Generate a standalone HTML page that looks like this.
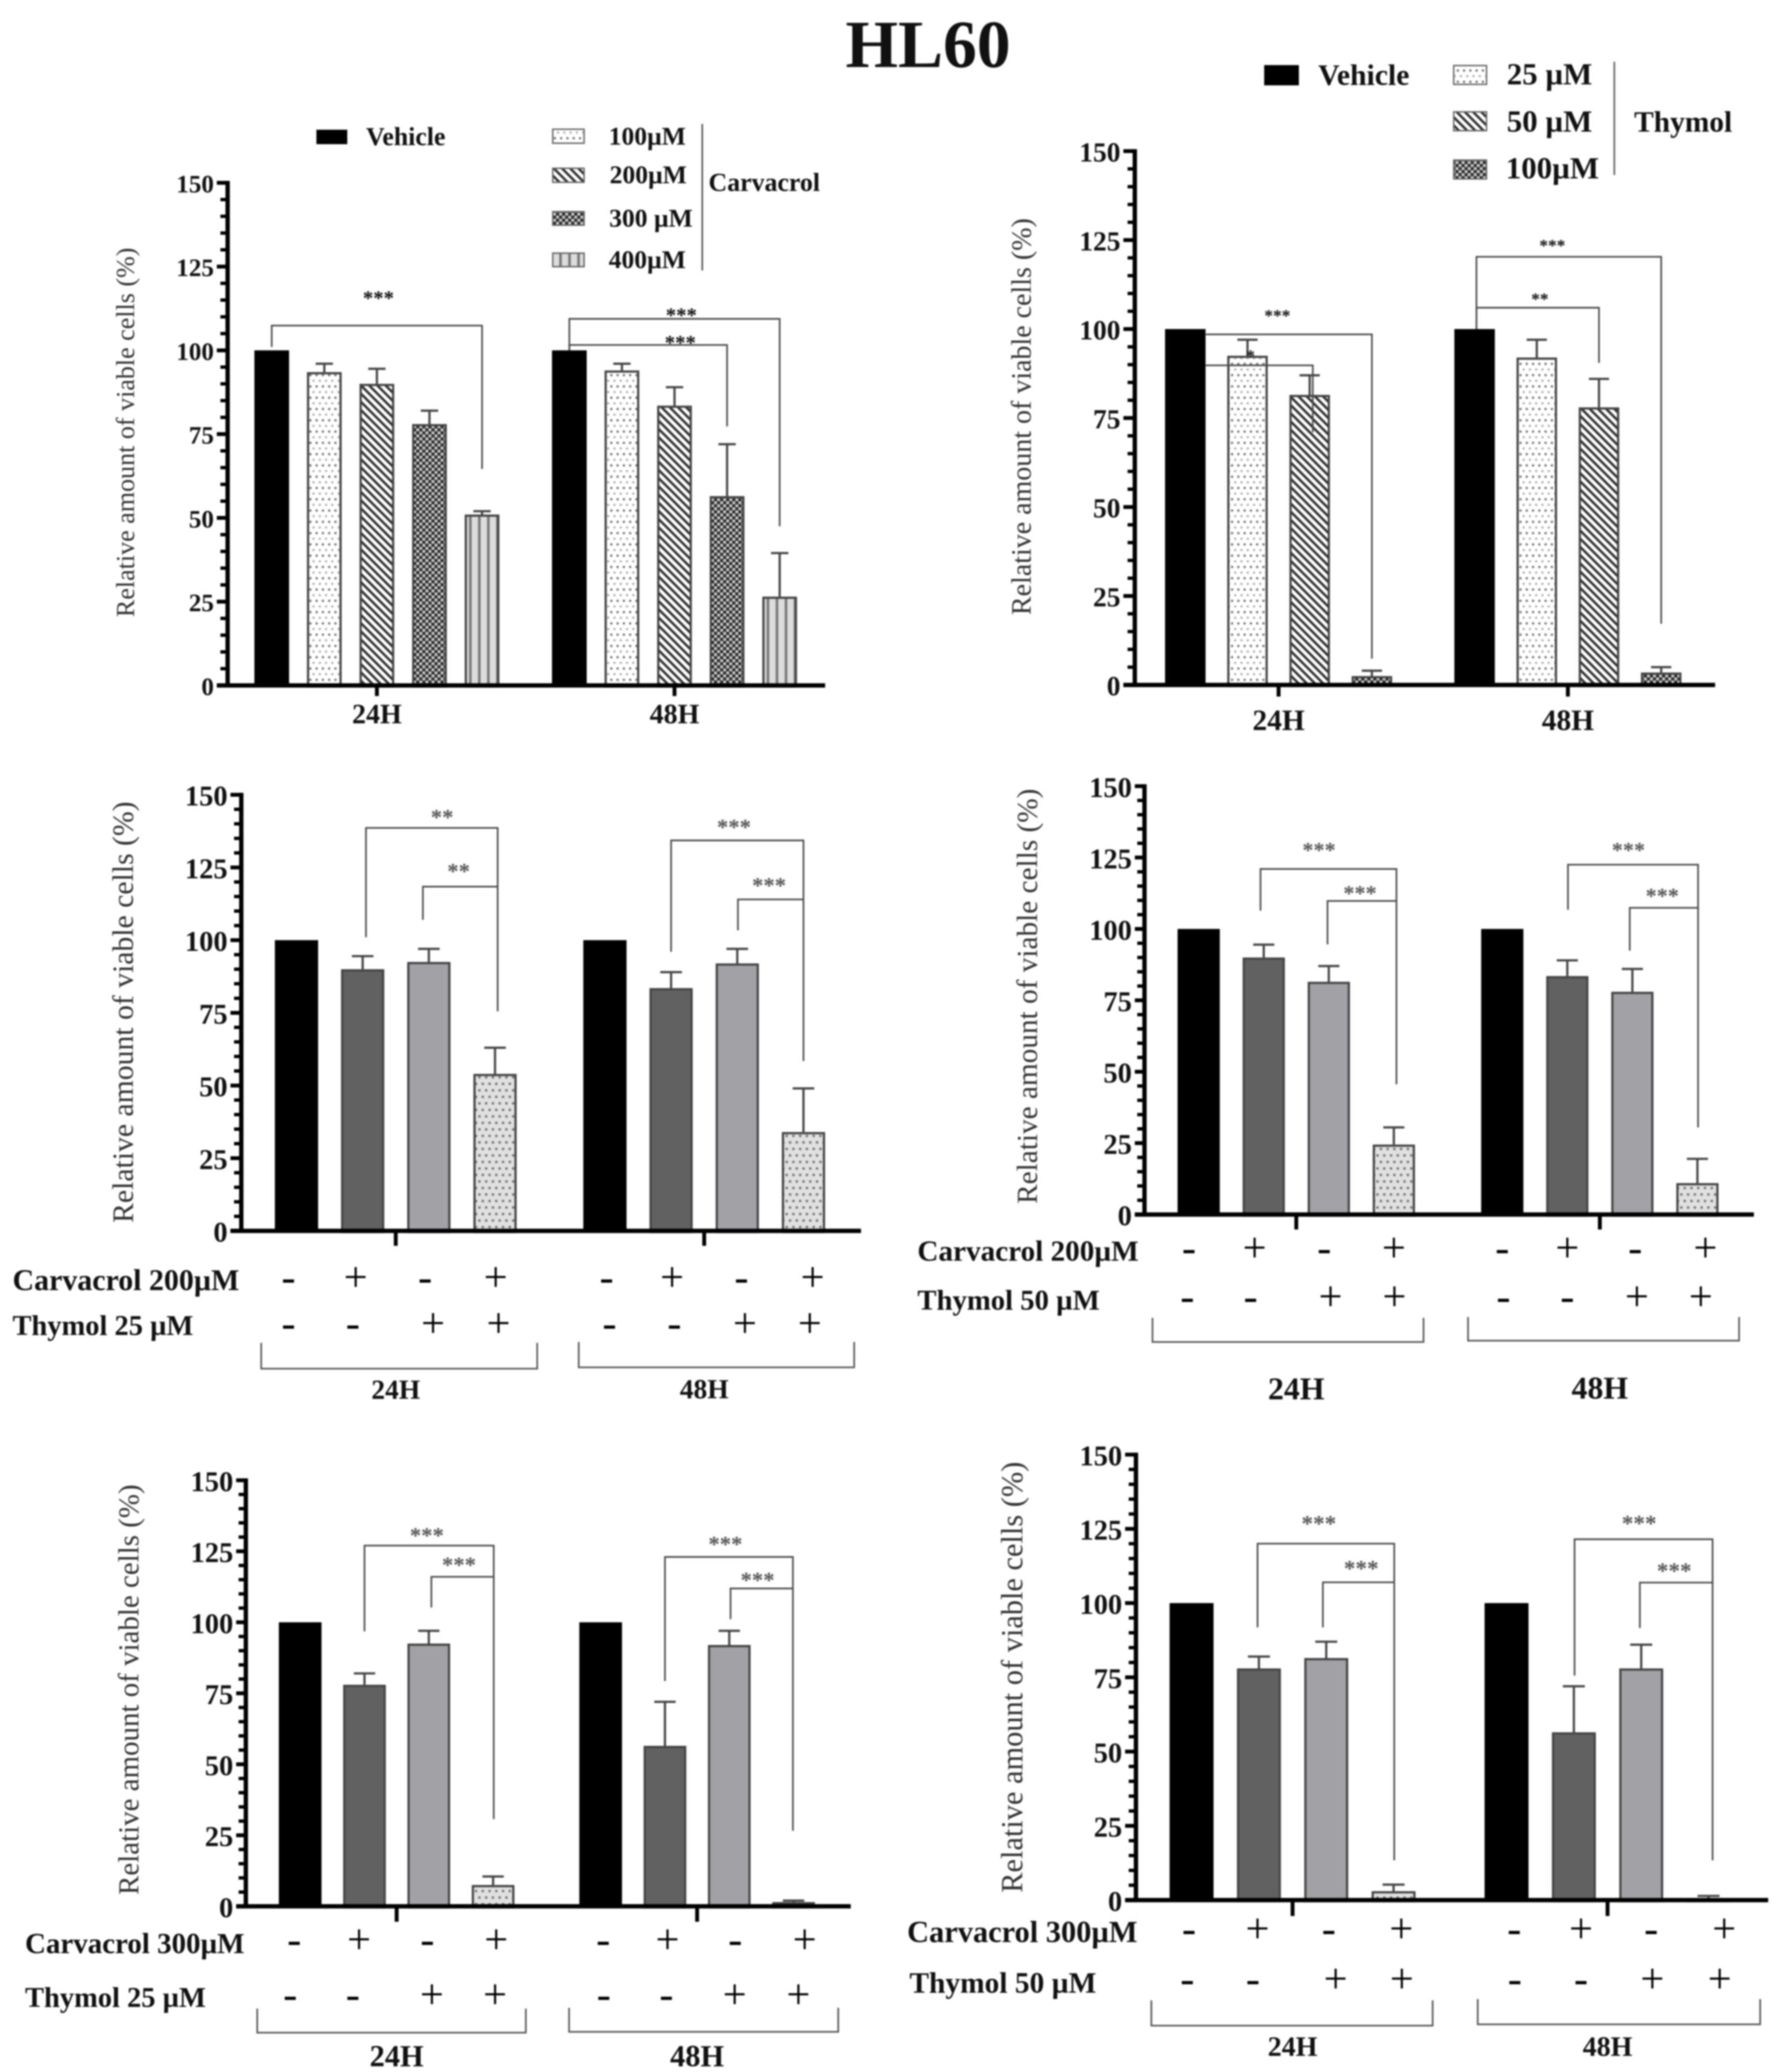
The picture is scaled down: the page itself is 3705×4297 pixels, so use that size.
<!DOCTYPE html>
<html lang="en">
<head>
<meta charset="utf-8">
<title>HL60 viable cell charts</title>
<style>
html,body{margin:0;padding:0;background:#fff;}
svg{display:block;filter:blur(1.5px);}
text{font-family:"Liberation Serif",serif;}
.b{font-weight:bold;fill:#111;}
</style>
</head>
<body>
<svg id="figure" xmlns="http://www.w3.org/2000/svg" width="3705" height="4297" viewBox="0 0 3705 4297">
<defs>
<pattern id="p-dots" patternUnits="userSpaceOnUse" width="26" height="23.4">
<rect width="26" height="23.4" fill="#fff"/>
<circle cx="6.5" cy="5.8" r="2.6" fill="#777"/><circle cx="19.5" cy="5.8" r="2.6" fill="#777"/>
<circle cx="0" cy="17.5" r="2.4" fill="#aaa"/><circle cx="13" cy="17.5" r="2.4" fill="#aaa"/><circle cx="26" cy="17.5" r="2.4" fill="#aaa"/>
</pattern>
<pattern id="p-hatch" patternUnits="userSpaceOnUse" width="17" height="17">
<rect width="17" height="17" fill="#fff"/>
<path d="M-5 -5L22 22M-5 12L5 22M12 -5L22 5" stroke="#333" stroke-width="5.2" fill="none"/>
</pattern>
<pattern id="p-check" patternUnits="userSpaceOnUse" width="12.6" height="12.6">
<rect width="12.6" height="12.6" fill="#6a6a6a"/>
<circle cx="3.1" cy="3.1" r="2.4" fill="#eee"/><circle cx="9.4" cy="9.4" r="2.4" fill="#eee"/>
<circle cx="9.4" cy="3.1" r="2.3" fill="#111"/><circle cx="3.1" cy="9.4" r="2.3" fill="#111"/>
</pattern>
<pattern id="p-stripes" patternUnits="userSpaceOnUse" width="18.7" height="10">
<rect width="18.7" height="10" fill="#dcdcdc"/>
<rect x="0" width="5.4" height="10" fill="#777"/>
</pattern>
<pattern id="p-dotgray" patternUnits="userSpaceOnUse" width="28" height="27">
<rect width="28" height="27" fill="#e0e0e0"/>
<circle cx="7" cy="6.7" r="2.8" fill="#777"/><circle cx="21" cy="6.7" r="2.8" fill="#777"/>
<circle cx="0" cy="20.2" r="2.8" fill="#777"/><circle cx="14" cy="20.2" r="2.8" fill="#777"/><circle cx="28" cy="20.2" r="2.8" fill="#777"/>
</pattern>
</defs>
<rect width="3705" height="4297" fill="#fff"/>
<text x="1753" y="139" class="b" font-size="140" fill="#000">HL60</text>

<g>
<rect x="656" y="269" width="64" height="30" fill="#000"/>
<text x="759" y="301" class="b" font-size="53.5">Vehicle</text>
<rect x="1146" y="268" width="65" height="29" fill="url(#p-dots)" stroke="#666" stroke-width="3"/>
<text x="1262" y="300" class="b" font-size="53">100µM</text>
<rect x="1146" y="349" width="65" height="29" fill="url(#p-hatch)" stroke="#666" stroke-width="3"/>
<text x="1264" y="380" class="b" font-size="53">200µM</text>
<rect x="1146" y="439" width="65" height="28" fill="url(#p-check)" stroke="#666" stroke-width="3"/>
<text x="1263" y="470" class="b" font-size="53">300 µM</text>
<rect x="1146" y="525" width="65" height="28" fill="url(#p-stripes)" stroke="#666" stroke-width="3"/>
<text x="1262" y="556" class="b" font-size="53">400µM</text>
<line x1="1456" y1="257" x2="1456" y2="561" stroke="#444" stroke-width="3"/>
<text x="1469" y="396" class="b" font-size="53.6">Carvacrol</text>
</g>

<g>
<rect x="2621" y="135" width="72" height="42" fill="#000"/>
<text x="2733" y="176" class="b" font-size="61.5">Vehicle</text>
<rect x="3014" y="136" width="68" height="39" fill="url(#p-dots)" stroke="#666" stroke-width="3"/>
<text x="3124" y="175" class="b" font-size="64">25 µM</text>
<rect x="3014" y="232" width="68" height="39" fill="url(#p-hatch)" stroke="#666" stroke-width="3"/>
<text x="3124" y="273" class="b" font-size="64">50 µM</text>
<rect x="3014" y="332" width="68" height="39" fill="url(#p-check)" stroke="#666" stroke-width="3"/>
<text x="3122" y="370" class="b" font-size="64">100µM</text>
<line x1="3347" y1="128" x2="3347" y2="363" stroke="#666" stroke-width="3.5"/>
<text x="3388" y="273" class="b" font-size="61">Thymol</text>
</g>

<g id="panel-a"></g>
<g id="panel-b"></g>
<g id="panel-c"></g>
<g id="panel-d"></g>
<g id="panel-e"></g>
<g id="panel-f"></g>
</svg>

<script>
// ---- shared data ----
const categories = ['24H', '48H'];
const yTickValues = [0, 25, 50, 75, 100, 125, 150];
const yMinorTickValues = [5,10,15,20,30,35,40,45,55,60,65,70,80,85,90,95,105,110,115,120,130,135,140,145];
const yAxisTitle = 'Relative amount of viable cells (%)';
const carvacrolSigns = ['-', '+', '-', '+'];
const thymolSigns = ['-', '-', '+', '+'];

// ---- series values, one array per group (24H, 48H) ----
const panelAMeans = [[100, 93.5, 90, 78, 51], [100, 94, 83.5, 56.5, 26.5]];
const panelAErrors = [[0, 2.5, 4.5, 4, 1], [0, 2, 5.5, 15.5, 13]];
const panelBMeans = [[100, 92.5, 81.5, 2.5], [100, 92, 78, 3.5]];
const panelBErrors = [[0, 4.5, 5.5, 1.5], [0, 5, 8, 1.5]];
const panelCMeans = [[100, 90, 92.5, 54], [100, 83.5, 92, 34]];
const panelCErrors = [[0, 4.5, 4.5, 9], [0, 5.5, 5, 15]];
const panelDMeans = [[100, 90, 81.5, 24.5], [100, 83.5, 78, 11]];
const panelDErrors = [[0, 4.5, 5.5, 6], [0, 5.5, 8, 8.5]];
const panelEMeans = [[100, 78, 92.5, 7.5], [100, 56.5, 92, 1.5]];
const panelEErrors = [[0, 4, 4.5, 3], [0, 15.5, 5, 0.5]];
const panelFMeans = [[100, 78, 81.5, 3], [100, 56.5, 78, 0.7]];
const panelFErrors = [[0, 4, 5.5, 2.2], [0, 15.5, 8, 0.7]];

// ---- significance brackets: group, left bar, right bar, level, left end, right end, label, label bar pos, label level ----
const panelABrackets = [
  [0, 0, 4, 107.4, 101, 64.6, '***', 2.03, 116.5],
  [1, 0, 4, 109.4, 100, 47.5, '***', 2.13, 111.4],
  [1, 0, 3, 101.6, 100, 77.3, '***', 2.11, 103.2]
];
const panelBBrackets = [
  [0, 0.33, 2.05, 89.8, 89.8, 71, '*', 1.05, 93.2],
  [0, 0.33, 3, 98.5, 98.5, 7.4, '***', 1.48, 104.5],
  [1, 0.03, 3, 120.3, 100, 17.2, '***', 1.25, 124.2],
  [1, 0.03, 2, 106, 100, 90.5, '**', 1.05, 109.2]
];
const panelCBrackets = [
  [0, 1.05, 3.04, 138.6, 101, 75.5, '**', 2.2, 143.5],
  [0, 1.91, 3.04, 118.4, 107, 118.4, '**', 2.45, 124.9],
  [1, 1, 3, 134.3, 96, 58.4, '***', 1.95, 140.1],
  [1, 2.01, 3, 114, 103.4, 114, '***', 2.48, 120]
];
const panelDBrackets = [
  [0, 0.95, 3.04, 121, 106.4, 45.6, '***', 1.85, 128.8],
  [0, 1.98, 3.04, 109.8, 94.6, 109.8, '***', 2.48, 113.7],
  [1, 1.01, 3.01, 122.5, 106.7, 30.5, '***', 1.94, 128.8],
  [1, 1.96, 3.01, 107.4, 92.4, 107.4, '***', 2.46, 112.8]
];
const panelEBrackets = [
  [0, 1, 3.01, 127, 96.8, 30.7, '***', 1.97, 131.8],
  [0, 2.04, 3.01, 116, 105.2, 116, '***', 2.47, 121.5],
  [1, 1, 2.99, 123, 79.3, 26.6, '***', 1.94, 128.8],
  [1, 2.02, 2.99, 111.9, 101.1, 111.9, '***', 2.44, 116.1]
];
const panelFBrackets = [
  [0, 0.98, 3.01, 120, 91.8, 13.4, '***', 1.89, 127.9],
  [0, 1.95, 3.01, 107, 91.8, 107, '***', 2.52, 112.8],
  [1, 1.01, 3.06, 121.5, 75.6, 13.4, '***', 1.97, 128],
  [1, 1.98, 3.06, 106.9, 91.6, 106.9, '***', 2.49, 112]
];

// ---- layout (separate from data) ----
const SL = 1850 / 1568, SR = 1855 / 1568;
const fillsDose5 = ['#000', 'url(#p-dots)', 'url(#p-hatch)', 'url(#p-check)', 'url(#p-stripes)'];
const fillsDose4 = ['#000', 'url(#p-dots)', 'url(#p-hatch)', 'url(#p-check)'];
const fillsCombo = ['#000', '#616161', '#a2a1a5', 'url(#p-dotgray)'];

const layoutA = { ox: 0, oy: 0, sx: SL, sy: 1550 / 1568, axis: 400, y0: 1438, y150: 383.5, xs: 381, xe: 1450, lefts: [447, 970], w: 61, step: 92.4, tickF: 52, titleF: 54, titleX: 222, titleY: 907, catF: 58, catY: [1498, 1498], xTick: 22, starF: 43, starC: '#111' };
const layoutB = { ox: 1850, oy: 0, sx: SR, sy: 1550 / 1568, axis: 425, y0: 1437, y150: 317, xs: 405, xe: 1442, lefts: [478, 985], w: 71, step: 109, tickF: 57, titleF: 58, titleX: 228, titleY: 874, catF: 61, catY: [1511, 1511], xTick: 24, starF: 36, starC: '#111' };
const layoutC = { ox: 0, oy: 1550, sx: SL, sy: 1400 / 1568, axis: 424, y0: 1123, y150: 110, xs: 405, xe: 1513, lefts: [483, 1025], w: 76, step: 116.3, tickF: 59, titleF: 61.6, titleX: 218, titleY: 615, catF: 57, catY: [1492, 1491], xTick: 31, starF: 47, starC: '#555',
  rowF: [62, 59], rowX: [22, 22], rowY: [1240, 1345], rowText: ['Carvacrol 200µM', 'Thymol 25 µM'], signY: [1238, 1345],
  signX: [[507, 625, 747, 871, 1066, 1181, 1303, 1428], [507, 620, 761, 876, 1071, 1185, 1309, 1423]],
  boxes: [[459, 944, 1383, 1443], [1017, 1501, 1381, 1440]] };
const layoutD = { ox: 1850, oy: 1550, sx: SR, sy: 1400 / 1568, axis: 442, y0: 1085, y150: 90, xs: 425, xe: 1510, lefts: [500, 1032], w: 74, step: 114, tickF: 59, titleF: 60.7, titleX: 238, titleY: 578, catF: 66, catY: [1490, 1488], xTick: 31, starF: 46, starC: '#555',
  rowF: [60.5, 59.5], rowX: [44, 44], rowY: [1172, 1286], rowText: ['Carvacrol 200µM', 'Thymol 50 µM'], signY: [1170, 1283],
  signX: [[520, 635, 757, 879, 1069, 1183, 1302, 1425], [517, 628, 768, 880, 1071, 1183, 1305, 1417]],
  boxes: [[456, 931, 1325, 1381], [1009, 1484, 1323, 1378]] };
const layoutE = { ox: 0, oy: 2950, sx: SL, sy: 1347 / 1568, axis: 432, y0: 1168, y150: 139.5, xs: 415, xe: 1495, lefts: [490, 1018], w: 75, step: 113, tickF: 59, titleF: 60, titleX: 228, titleY: 645, catF: 63, catY: [1530, 1530], xTick: 32, starF: 47, starC: '#555',
  rowF: [60, 59], rowX: [44, 44], rowY: [1260, 1390], rowText: ['Carvacrol 300µM', 'Thymol 25 µM'], signY: [1256, 1389],
  signX: [[517, 631, 751, 872, 1060, 1173, 1292, 1414], [510, 620, 759, 870, 1061, 1171, 1291, 1403]],
  boxes: [[452, 924, 1415, 1473], [1000, 1473, 1413, 1471]] };
const layoutF = { ox: 1850, oy: 2950, sx: SR, sy: 1347 / 1568, axis: 427, y0: 1153, y150: 77.5, xs: 408, xe: 1535, lefts: [486, 1038], w: 77, step: 118, tickF: 59, titleF: 63, titleX: 212, titleY: 615, catF: 58, catY: [1507, 1507], xTick: 33, starF: 48, starC: '#555',
  rowF: [63, 61], rowX: [26, 30], rowY: [1232, 1355], rowText: ['Carvacrol 300µM', 'Thymol 50 µM'], signY: [1230, 1351],
  signX: [[520, 640, 765, 892, 1090, 1207, 1330, 1458], [517, 632, 777, 893, 1091, 1207, 1332, 1450]],
  boxes: [[454, 947, 1395, 1456], [1026, 1521, 1392, 1453]] };

const NS = 'http://www.w3.org/2000/svg';
function mk(tag, attrs, parent, txt) {
  const n = document.createElementNS(NS, tag);
  for (const k in attrs) n.setAttribute(k, attrs[k]);
  if (txt !== undefined) n.textContent = txt;
  parent.appendChild(n);
  return n;
}

function drawPanel(id, L, means, errors, brackets, fills) {
  const root = document.getElementById(id);
  const X = z => L.ox + z * L.sx;
  const Y = z => L.oy + z * L.sy;
  const yBase = Y(L.y0);
  const yScale = v => yBase - v * (yBase - Y(L.y150)) / 150;
  const barW = L.w * L.sx;
  const stepPx = L.step * L.sx;
  const barLeft = (g, i) => X(L.lefts[g]) + i * stepPx;
  const barPos = (g, p) => barLeft(g, 0) + barW / 2 + p * stepPx;
  const stroke = 4.6;

  // bars and error bars
  means.forEach((series, g) => {
    series.forEach((v, i) => {
      const left = barLeft(g, i);
      const cx = left + barW / 2;
      const e = errors[g][i];
      if (e > 0) {
        const err = mk('path', { d: `M${cx} ${yScale(v)}V${yScale(v + e)}M${cx - barW / 4} ${yScale(v + e)}H${cx + barW / 4}`, stroke: '#444', 'stroke-width': 4.6, fill: 'none' }, root);
        
        
      }
      const solid = fills[i] === '#000';
      const bar = mk('rect', {
        x: solid ? left : left + stroke / 2,
        y: solid ? yScale(v) : yScale(v) + stroke / 2,
        width: solid ? barW : barW - stroke,
        height: Math.max(0, yBase - yScale(v)),
        fill: fills[i],
        stroke: solid ? 'none' : '#444',
        'stroke-width': stroke
      }, root);
      
      
    });
  });

  // significance brackets and stars
  brackets.forEach(b => {
    const x1 = barPos(b[0], b[1]), x2 = barPos(b[0], b[2]);
    const path = mk('path', { d: `M${x1} ${yScale(b[4])}V${yScale(b[3])}H${x2}V${yScale(b[5])}`, stroke: '#4a4a4a', 'stroke-width': 3.4, fill: 'none' }, root);
    
    
    const star = mk('text', { x: barPos(b[0], b[7]), y: yScale(b[8]) + 0.48 * L.starF, 'text-anchor': 'middle', 'font-size': L.starF, 'font-weight': 'bold', fill: L.starC }, root, b[6]);
    
    
  });

  // y axis
  const yLine = mk('line', { x1: X(L.axis), x2: X(L.axis), y1: Y(L.y150) - 4, y2: yBase, stroke: '#000', 'stroke-width': 9 }, root);
  
  
  yMinorTickValues.forEach(v => {
    const t = mk('line', { x1: X(L.axis) - 15, x2: X(L.axis), y1: yScale(v), y2: yScale(v), stroke: '#000', 'stroke-width': 7 }, root);
    
    
  });
  yTickValues.forEach(v => {
    const t = mk('line', { x1: X(L.xs), x2: X(L.axis), y1: yScale(v), y2: yScale(v), stroke: '#000', 'stroke-width': 8 }, root);
    
    
    const lab = mk('text', { x: X(L.xs) - 6, y: yScale(v) + 0.38 * L.tickF, 'text-anchor': 'end', 'font-size': L.tickF, 'font-weight': 'bold', fill: '#111' }, root, String(v));
    
    
  });
  const title = mk('text', { transform: `translate(${X(L.titleX) + 0.3 * L.titleF} ${Y(L.titleY)}) rotate(-90)`, 'text-anchor': 'middle', 'font-size': L.titleF, fill: '#333' }, root, yAxisTitle);
  
  

  // x axis
  const xLine = mk('line', { x1: X(L.xs), x2: X(L.xe), y1: yBase, y2: yBase, stroke: '#000', 'stroke-width': 9 }, root);
  
  
  categories.forEach((c, g) => {
    const n = means[g].length;
    const cx = barLeft(g, 0) + barW / 2 + (n - 1) / 2 * stepPx;
    const t = mk('line', { x1: cx, x2: cx, y1: yBase, y2: yBase + L.xTick, stroke: '#000', 'stroke-width': 8 }, root);
    
    
    const lab = mk('text', { x: cx, y: Y(L.catY[g]) + 0.33 * L.catF, 'text-anchor': 'middle', 'font-size': L.catF, 'font-weight': 'bold', fill: '#111' }, root, c);
    
    
  });

  // treatment rows for the combination panels
  if (L.rowText) {
    const rows = [carvacrolSigns.concat(carvacrolSigns), thymolSigns.concat(thymolSigns)];
    rows.forEach((signs, r) => {
      const rowLab = mk('text', { x: X(L.rowX[r]), y: Y(L.rowY[r]) + 0.3 * L.rowF[r], 'font-size': L.rowF[r], 'font-weight': 'bold', fill: '#111' }, root, L.rowText[r]);
      
      
      signs.forEach((s, i) => {
        const sign = mk('text', { x: X(L.signX[r][i]), y: Y(L.signY[r]) + 0.25 * 88, 'text-anchor': 'middle', 'font-size': 88, fill: '#000' }, root, s);
        
        
      });
    });
    L.boxes.forEach(b => {
      const box = mk('path', { d: `M${X(b[0])} ${Y(b[2])}V${Y(b[3])}H${X(b[1])}V${Y(b[2])}`, stroke: '#555', 'stroke-width': 3.4, fill: 'none' }, root);
      
      
    });
  }
}

drawPanel('panel-a', layoutA, panelAMeans, panelAErrors, panelABrackets, fillsDose5);
drawPanel('panel-b', layoutB, panelBMeans, panelBErrors, panelBBrackets, fillsDose4);
drawPanel('panel-c', layoutC, panelCMeans, panelCErrors, panelCBrackets, fillsCombo);
drawPanel('panel-d', layoutD, panelDMeans, panelDErrors, panelDBrackets, fillsCombo);
drawPanel('panel-e', layoutE, panelEMeans, panelEErrors, panelEBrackets, fillsCombo);
drawPanel('panel-f', layoutF, panelFMeans, panelFErrors, panelFBrackets, fillsCombo);
</script>
</body>
</html>
